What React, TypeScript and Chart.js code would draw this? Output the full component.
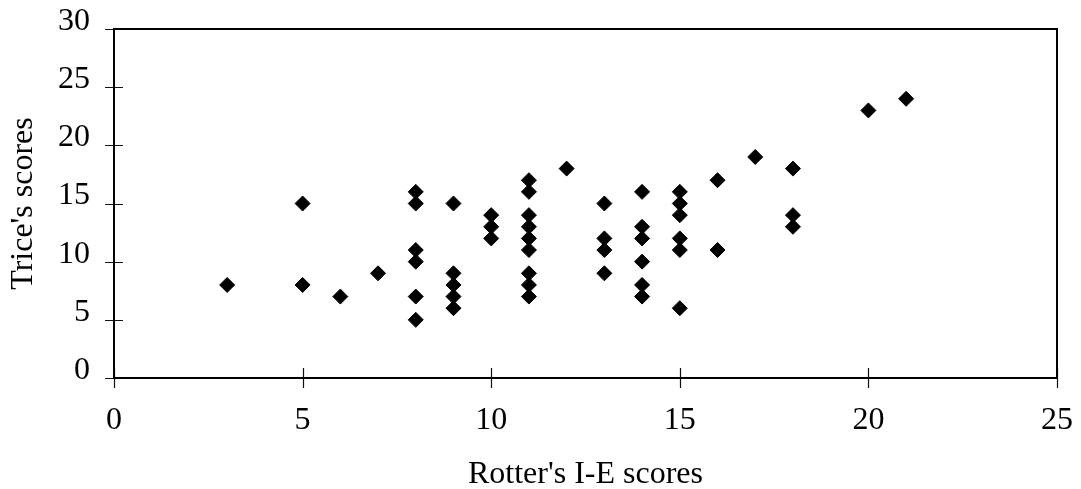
import React, { useEffect, useRef } from "react";
import { Chart, registerables } from "chart.js";

Chart.register(...registerables);

// Rotter's I-E score for each participant
const rotterScores: number[] = [
  3,
  5, 5,
  6,
  7,
  8, 8, 8, 8, 8, 8,
  9, 9, 9, 9, 9,
  10, 10, 10,
  11, 11, 11, 11, 11, 11, 11, 11, 11,
  12,
  13, 13, 13, 13,
  14, 14, 14, 14, 14, 14,
  15, 15, 15, 15, 15, 15,
  16, 16,
  17,
  18, 18, 18,
  20,
  21,
];

// Trice's score for the same participants
const triceScores: number[] = [
  8,
  15, 8,
  7,
  9,
  16, 15, 11, 10, 7, 5,
  15, 9, 8, 7, 6,
  14, 13, 12,
  17, 16, 14, 13, 12, 11, 9, 8, 7,
  18,
  15, 12, 11, 9,
  16, 13, 12, 10, 8, 7,
  16, 15, 14, 12, 11, 6,
  17, 11,
  19,
  18, 14, 13,
  23,
  24,
];

const xTicks: number[] = [0, 5, 10, 15, 20, 25];
const yTicks: number[] = [0, 5, 10, 15, 20, 25, 30];

const FONT = "'Liberation Serif', 'DejaVu Serif', serif";

const frameAndTicks = {
  id: "frameAndTicks",
  afterDraw(chart: any) {
    const { ctx, chartArea } = chart;
    const xs = chart.scales.x;
    const ys = chart.scales.y;
    ctx.save();
    ctx.strokeStyle = "#111";
    ctx.lineWidth = 1.2;
    ctx.beginPath();
    xTicks.forEach((v) => {
      const px = Math.round(xs.getPixelForValue(v)) + 0.5;
      ctx.moveTo(px, chartArea.bottom - 10);
      ctx.lineTo(px, chartArea.bottom + 10);
    });
    yTicks.forEach((v) => {
      const py = Math.round(ys.getPixelForValue(v)) + 0.5;
      ctx.moveTo(chartArea.left - 9, py);
      ctx.lineTo(chartArea.left + 9, py);
    });
    ctx.stroke();
    ctx.strokeStyle = "#000";
    ctx.lineWidth = 2;
    ctx.strokeRect(
      chartArea.left,
      chartArea.top,
      chartArea.right - chartArea.left,
      chartArea.bottom - chartArea.top
    );
    ctx.restore();
  },
};

export default function App() {
  const canvasRef = useRef<HTMLCanvasElement | null>(null);

  useEffect(() => {
    if (!canvasRef.current) return;
    const points = rotterScores.map((x, i) => ({ x, y: triceScores[i] }));
    const chart = new Chart(canvasRef.current, {
      type: "scatter",
      data: {
        datasets: [
          {
            label: "Scores",
            data: points,
            pointStyle: "rectRot",
            pointRadius: 7.5,
            pointBorderWidth: 1,
            backgroundColor: "#000",
            borderColor: "#000",
          },
        ],
      },
      options: {
        animation: false,
        responsive: true,
        maintainAspectRatio: false,
        layout: { padding: { top: 29, right: 24, left: 0, bottom: 0 } },
        plugins: {
          legend: { display: false },
          tooltip: { enabled: false },
        },
        scales: {
          x: {
            type: "linear",
            min: 0,
            max: 25,
            afterFit: (scale: any) => {
              scale.height = 111;
              scale.paddingLeft = 0;
              scale.paddingRight = 0;
            },
            afterBuildTicks: (scale: any) => {
              scale.ticks = xTicks.map((v) => ({ value: v }));
            },
            grid: { display: false },
            border: { display: false },
            ticks: {
              padding: 15,
              color: "#000",
              font: { family: FONT, size: 32 },
            },
            title: {
              display: true,
              text: "Rotter's I-E scores",
              color: "#000",
              font: { family: FONT, size: 32, lineHeight: 1 },
              padding: { top: 0, bottom: -2 },
            },
          },
          y: {
            type: "linear",
            min: 0,
            max: 30,
            afterFit: (scale: any) => {
              scale.width = 114;
              scale.paddingTop = 0;
              scale.paddingBottom = 0;
            },
            afterBuildTicks: (scale: any) => {
              scale.ticks = yTicks.map((v) => ({ value: v }));
            },
            grid: { display: false },
            border: { display: false },
            ticks: {
              padding: 16,
              labelOffset: -7.5,
              color: "#000",
              font: { family: FONT, size: 32 },
            },
            title: {
              display: true,
              text: "Trice's scores",
              color: "#000",
              font: { family: FONT, size: 32, lineHeight: 1 },
              padding: { top: 8, bottom: 0 },
            },
          },
        },
      },
      plugins: [frameAndTicks],
    });
    return () => chart.destroy();
  }, []);

  return (
    <div
      style={{
        position: "absolute",
        left: 0,
        top: 0,
        width: 1081,
        height: 489,
        background: "#fff",
      }}
    >
      <canvas ref={canvasRef} />
    </div>
  );
}
